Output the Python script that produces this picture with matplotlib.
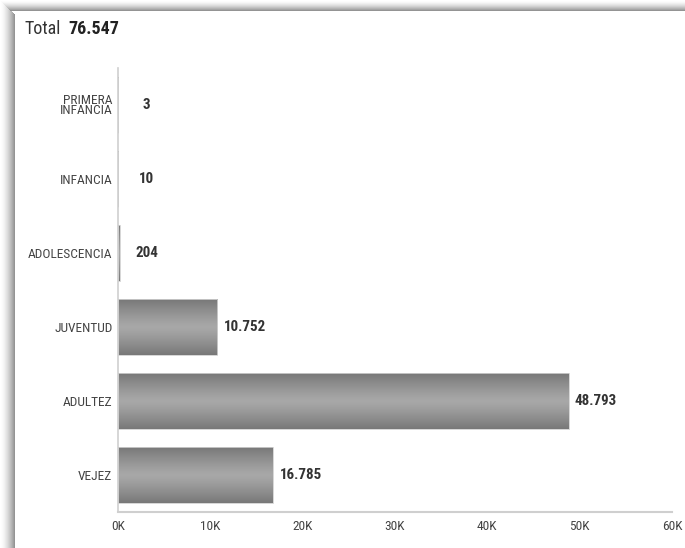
import numpy as np
import matplotlib
matplotlib.use('Agg')
import matplotlib.pyplot as plt
from matplotlib.ticker import FuncFormatter

# === DATA ===
categories = ['VEJEZ', 'ADULTEZ', 'JUVENTUD', 'ADOLESCENCIA', 'INFANCIA',
              'PRIMERA\nINFANCIA']
values = [16785, 48793, 10752, 204, 10, 3]
total_label = '76.547'
xticks = [0, 10000, 20000, 30000, 40000, 50000, 60000]

plt.rcParams['font.family'] = ['Liberation Sans Narrow', 'Roboto Condensed',
                               'Roboto', 'DejaVu Sans']

fig = plt.figure(figsize=(6.85, 5.48), dpi=100)
fig.patch.set_facecolor('white')

# shadow along top and left edge of the panel
W, H = 685.0, 548.0
sx, sy = 15, 11
bg = fig.add_axes([0, 0, 1, 1], zorder=-10)
bg.set_xlim(0, W)
bg.set_ylim(H, 0)
bg.axis('off')
for i in range(sx):
    g = 1.0 - 0.42 * (i / (sx - 1)) ** 1.6
    bg.axvspan(i, i + 1, ymin=0, ymax=1 - i / H, color=(g, g, g), lw=0)
for j in range(sy):
    g = 1.0 - 0.42 * (j / (sy - 1)) ** 1.6
    bg.axhspan(j, j + 1, xmin=j / W, xmax=1, color=(g, g, g), lw=0)

ax = fig.add_axes([118 / W, 1 - 512 / H, (672 - 118) / W, (512 - 68) / H])
ypos = np.arange(len(categories))
bars = ax.barh(ypos, values, height=0.75, color='none', edgecolor='#d0d0d0',
               lw=0.6, zorder=3)

# vertical grey gradient inside each bar: dark at top/bottom, light middle
t = np.abs(np.linspace(-1, 1, 64)) ** 1.2
shade = 0.66 - 0.19 * t
img = np.dstack([shade, shade, shade]).reshape(-1, 1, 3)
for b in bars:
    x0, y0 = b.get_x(), b.get_y()
    w, h = b.get_width(), b.get_height()
    if w <= 0:
        continue
    ax.imshow(img, aspect='auto', extent=(x0, x0 + w, y0, y0 + h),
              zorder=2, interpolation='bilinear')

# value labels; tiny bars get their label centred a bit off the axis
for b, v in zip(bars, values):
    txt = '{:,}'.format(v).replace(',', '.')
    yc = b.get_y() + b.get_height() / 2
    if b.get_width() < 2000:
        ax.text(3100, yc, txt, va='center', ha='center', fontsize=10.8,
                fontweight='bold', color='#333333')
    else:
        ax.text(b.get_width() + 700, yc, txt, va='center', ha='left',
                fontsize=10.8, fontweight='bold', color='#333333')

ax.set_xlim(0, 60000)
ax.set_ylim(-0.5, 5.5)
ax.set_xticks(xticks)
ax.xaxis.set_major_formatter(FuncFormatter(lambda x, p: '%dK' % (x / 1000)))
ax.set_yticks(ypos)
ax.set_yticklabels(categories, linespacing=0.8)
ax.tick_params(axis='both', length=0, labelsize=9.6, colors='#444444')
ax.tick_params(axis='y', pad=4)
ax.tick_params(axis='x', pad=6)
for s in ['top', 'right']:
    ax.spines[s].set_visible(False)
ax.spines['left'].set_color('#cfcfcf')
ax.spines['bottom'].set_color('#cfcfcf')
ax.spines['left'].set_linewidth(1.2)
ax.spines['bottom'].set_linewidth(1.5)

fig.text(24 / W, 1 - 29 / H, 'Total', fontsize=13, color='#333333',
         va='center', ha='left')
fig.text(68 / W, 1 - 29 / H, total_label, fontsize=13, fontweight='bold',
         color='#222222', va='center', ha='left')

fig.savefig('out.png', dpi=100)
plt.close()
